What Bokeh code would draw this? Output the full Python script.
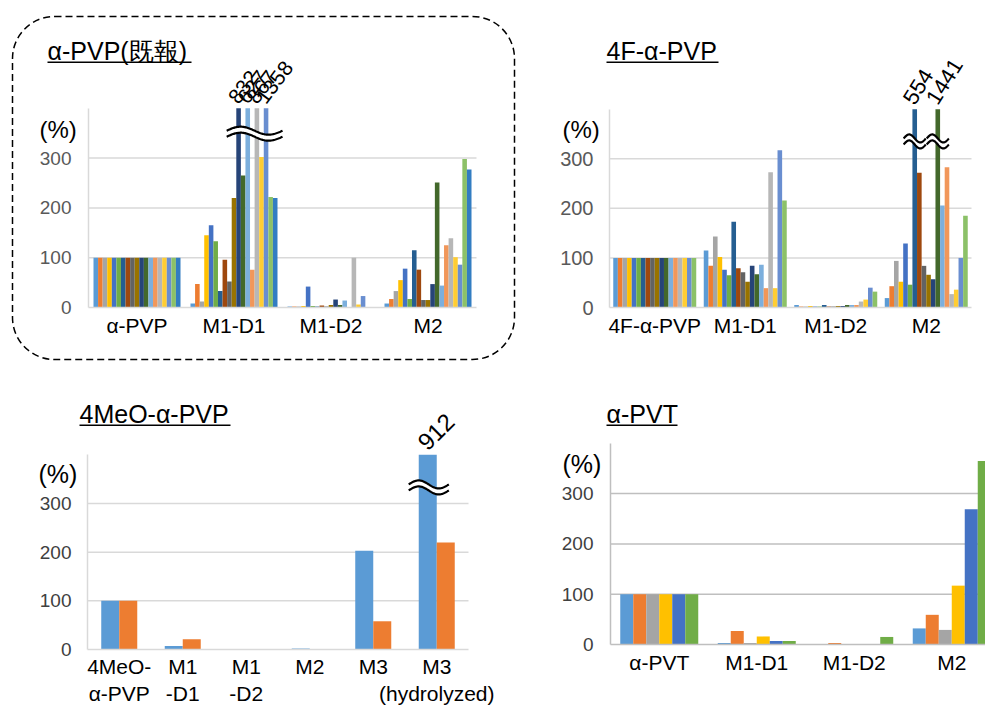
import math
import numpy as np
from bokeh.plotting import figure
from bokeh.layouts import column, row
from bokeh.models import Range1d, FixedTicker, Label, BoxAnnotation, ColumnDataSource
from bokeh.embed import file_html
from bokeh.resources import INLINE
from bokeh.core.properties import value

FONT = "Liberation Sans"

SERIES_COLORS = ["#5B9BD5", "#ED7D31", "#A5A5A5", "#FFC000", "#4472C4", "#70AD47",
                 "#255E91", "#9E480E", "#636363", "#997300", "#264478", "#43682B",
                 "#7CAFDD", "#F1975A", "#B7B7B7", "#FFCD33", "#698ED0", "#8CC168",
                 "#327DC2"]

# ---------------- α-PVP (既報) : 19 series ----------------
apvp_categories = ["α-PVP", "M1-D1", "M1-D2", "M2"]
apvp_parent = [100, 100, 100, 100, 100, 100, 100, 100, 100, 100, 100, 100, 100, 100, 100, 100, 100, 100, 100]
apvp_m1d1 = [8, 47, 12, 145, 165, 133, 33, 96, 52, 220, 832, 265, 627, 76, 867, 302, 1358, 222, 220]
apvp_m1d2 = [2, 2, 2, 3, 42, 3, 2, 4, 2, 5, 16, 5, 14, 0, 100, 6, 23, 0, 0]
apvp_m2 = [8, 17, 33, 55, 78, 17, 115, 76, 15, 15, 47, 251, 44, 125, 139, 101, 86, 298, 277]

# ---------------- 4F-α-PVP : 18 series ----------------
f4_categories = ["4F-α-PVP", "M1-D1", "M1-D2", "M2"]
f4_parent = [100, 100, 100, 100, 100, 100, 100, 100, 100, 100, 100, 100, 100, 100, 100, 100, 100, 100]
f4_m1d1 = [115, 84, 143, 102, 76, 65, 173, 79, 71, 52, 84, 67, 86, 39, 273, 39, 317, 216]
f4_m1d2 = [5, 2, 2, 3, 2, 2, 5, 2, 2, 3, 3, 5, 5, 5, 12, 16, 40, 32]
f4_m2 = [19, 43, 94, 52, 129, 46, 554, 272, 84, 66, 57, 1441, 206, 283, 27, 36, 100, 185]

# ---------------- 4MeO-α-PVP : 2 series ----------------
meo_categories = ["4MeO-\nα-PVP", "M1\n-D1", "M1\n-D2", "M2", "M3", "M3\n(hydrolyzed)"]
meo_series1 = [100, 7, 1, 2, 203, 912]
meo_series2 = [100, 21, 1, 1, 58, 220]

# ---------------- α-PVT : 6 series ----------------
pvt_categories = ["α-PVT", "M1-D1", "M1-D2", "M2"]
pvt_parent = [100, 100, 100, 100, 100, 100]
pvt_m1d1 = [3, 27, 3, 16, 7, 7]
pvt_m1d2 = [1, 3, 1, 1, 0, 15]
pvt_m2 = [32, 59, 29, 117, 269, 365]

y_ticks = [0, 100, 200, 300]
grid_ticks = [100, 200, 300]
AXIS_TOP = 400


def build(spec):
    W, H = spec["W"], spec["H"]
    ox, oy = spec["origin"]
    ax_x, base_y, plot_r = spec["axis_x"], spec["baseline"], spec["plot_right"]
    ppu, cat_px = spec["ppu"], spec["cat_px"]
    x0 = -0.5 - (ax_x - ox) / cat_px
    x1 = x0 + W / cat_px
    y0 = -(oy + H - base_y) / ppu
    y1 = (base_y - oy) / ppu
    p = figure(width=W, height=H, x_range=Range1d(x0, x1), y_range=Range1d(y0, y1),
               output_backend="svg", toolbar_location=None, min_border=0)
    p.outline_line_color = None
    p.background_fill_color = "white"
    p.border_fill_color = "white"

    def dx(sx):
        return x0 + (sx - ox) / cat_px

    def dy(sy):
        return (base_y - sy) / ppu

    ncat = len(spec["categories"])
    plot_end = -0.5 + (plot_r - ax_x) / cat_px

    # gridlines (from the axis to the end of the plot area)
    p.segment(x0=[-0.5] * len(grid_ticks), x1=[plot_end] * len(grid_ticks),
              y0=grid_ticks, y1=grid_ticks, line_color=spec["grid_color"], line_width=1.5)

    groups = spec["groups"]
    n = len(groups[0])
    bw = spec["group_frac"] / n
    xs, tops, cols, broken = [], [], [], []
    for i, vals in enumerate(groups):
        for j, v in enumerate(vals):
            x = i + (j - (n - 1) / 2) * bw
            xs.append(x)
            tops.append(min(v, AXIS_TOP))
            cols.append(SERIES_COLORS[j])
            if v > AXIS_TOP:
                broken.append((i, x, v))
    src = ColumnDataSource(dict(x=xs, top=tops, color=cols))
    p.vbar(x="x", top="top", bottom=0, width=bw, fill_color="color", line_color=None, source=src)

    # axis break marks
    padL, padR = spec["wave_pad"]
    segs = []
    if spec["wave_mode"] == "group":
        cats = sorted(set(b[0] for b in broken))
        for c in cats:
            bx = [b[1] for b in broken if b[0] == c]
            segs.append((min(bx) - padL * bw, max(bx) + padR * bw))
    else:
        for b in broken:
            segs.append((b[1] - padL * bw, b[1] + padR * bw))
    for (a, b) in segs:
        s = np.linspace(0, 1, 80)
        wx = a + (b - a) * s
        base = spec["wave_amp"] * np.sin(2 * np.pi * s)
        g = spec["wave_gap"] / 2
        up = spec["wave_y"] + (base + g) / ppu
        lo = spec["wave_y"] + (base - g) / ppu
        p.varea(x=wx, y1=lo, y2=up, fill_color="white")
        p.line(wx, up, line_color="black", line_width=2.2)
        p.line(wx, lo, line_color="black", line_width=2.2)

    # value labels of broken bars
    for (i, x, v) in broken:
        p.text(x=[x], y=[AXIS_TOP + spec["lab_dy"] / ppu], text=[str(v)],
               angle=math.radians(spec["lab_angle"]), text_align="left",
               text_baseline="bottom", text_font=value(FONT),
               text_font_size=spec["lab_size"], text_color="black")

    # axes (drawn at fixed data locations inside the figure)
    xa = p.xaxis[0]
    xa.fixed_location = 0
    xa.bounds = (-0.5, plot_end)
    xa.ticker = FixedTicker(ticks=list(range(ncat)))
    xa.major_label_overrides = {i: c for i, c in enumerate(spec["categories"])}
    xa.axis_line_color = spec["axis_color"]
    xa.axis_line_width = 1.5
    xa.major_tick_line_color = None
    xa.minor_tick_line_color = None
    xa.major_tick_out = 0
    xa.major_tick_in = 0
    xa.major_label_text_font = FONT
    xa.major_label_text_font_size = spec["cat_size"]
    xa.major_label_text_color = "black"
    xa.major_label_standoff = spec["x_standoff"]
    xa.major_label_text_line_height = 1.2

    ya = p.yaxis[0]
    ya.fixed_location = -0.5
    ya.ticker = FixedTicker(ticks=y_ticks)
    ya.bounds = (0, AXIS_TOP)
    ya.axis_line_color = spec["axis_color"]
    ya.axis_line_width = 1.5
    ya.major_tick_line_color = None
    ya.minor_tick_line_color = None
    ya.major_tick_out = 0
    ya.major_tick_in = 0
    ya.major_label_text_font = FONT
    ya.major_label_text_font_size = spec["tick_size"]
    ya.major_label_text_color = spec["tick_color"]
    ya.major_label_standoff = spec["y_standoff"]

    p.xgrid.visible = False
    p.ygrid.visible = False

    # title with underline
    tl, tm, tw, ul, tsize = spec["title_pos"]
    p.add_layout(Label(x=dx(tl), y=dy(tm), text=spec["title"], text_font=FONT,
                       text_font_size=tsize, text_baseline="middle",
                       text_align="left", text_color="black"))
    p.add_layout(BoxAnnotation(left=dx(tl), right=dx(tl + tw), top=dy(ul),
                               bottom=dy(ul + 1.6), fill_color="black", fill_alpha=1,
                               line_color=None))
    # (%) label
    pl, pc, ps = spec["pct"]
    p.add_layout(Label(x=dx(pl), y=dy(pc), text="(%)", text_font=FONT,
                       text_font_size=ps, text_baseline="middle",
                       text_align="left", text_color="black"))

    if spec.get("box"):
        bl, bt, br, bb = spec["box"]
        p.add_layout(BoxAnnotation(left=dx(bl), right=dx(br), top=dy(bt), bottom=dy(bb),
                                   fill_alpha=0, line_color="black", line_alpha=1,
                                   line_width=1.5, line_dash="7 4", border_radius=42))
    return p


W1, W2 = 528, 457
H1, H2 = 365, 342

p1 = build(dict(
    W=W1, H=H1, origin=(0, 0), axis_x=88, baseline=307, plot_right=476,
    ppu=0.498, cat_px=97,
    categories=apvp_categories, groups=[apvp_parent, apvp_m1d1, apvp_m1d2, apvp_m2],
    group_frac=0.897, axis_color="#D9D9D9", grid_color="#D9D9D9",
    tick_color="#595959", tick_size="19px", cat_size="21px",
    x_standoff=6, y_standoff=17,
    wave_mode="group", wave_pad=(2.6, 3.6), wave_y=349, wave_amp=4, wave_gap=6,
    lab_dy=3, lab_angle=53, lab_size="21px",
    title="α-PVP(既報)", title_pos=(47, 50, 144, 61, "25px"), pct=(39, 129, "24px"),
    box=(12, 16, 514, 359)))

p2 = build(dict(
    W=W2, H=H1, origin=(W1, 0), axis_x=609, baseline=307, plot_right=971,
    ppu=0.4957, cat_px=90.5,
    categories=f4_categories, groups=[f4_parent, f4_m1d1, f4_m1d2, f4_m2],
    group_frac=0.917, axis_color="#D9D9D9", grid_color="#D9D9D9",
    tick_color="#595959", tick_size="20px", cat_size="21px",
    x_standoff=6, y_standoff=16,
    wave_mode="each", wave_pad=(2.4, 2.4), wave_y=335, wave_amp=4, wave_gap=6,
    lab_dy=3, lab_angle=58, lab_size="22px",
    title="4F-α-PVP", title_pos=(606, 50, 112, 61, "25px"), pct=(562, 129, "24px")))

p3 = build(dict(
    W=W1, H=H2, origin=(0, H1), axis_x=87, baseline=649, plot_right=468,
    ppu=0.4867, cat_px=63.5,
    categories=meo_categories, groups=[list(t) for t in zip(meo_series1, meo_series2)],
    group_frac=0.567, axis_color="#D9D9D9", grid_color="#D9D9D9",
    tick_color="#404040", tick_size="19px", cat_size="21px",
    x_standoff=5, y_standoff=16,
    wave_mode="each", wave_pad=(1.06, 1.17), wave_y=333, wave_amp=4, wave_gap=6,
    lab_dy=3, lab_angle=45, lab_size="24px",
    title="4MeO-α-PVP", title_pos=(79, 413, 151, 424, "25px"), pct=(38, 473, "25px")))

p4 = build(dict(
    W=W2, H=H2, origin=(W1, H1), axis_x=610, baseline=644, plot_right=1000,
    ppu=0.503, cat_px=97.5,
    categories=pvt_categories, groups=[pvt_parent, pvt_m1d1, pvt_m1d2, pvt_m2],
    group_frac=0.8, axis_color="#BFBFBF", grid_color="#BFBFBF",
    tick_color="#404040", tick_size="19px", cat_size="21px",
    x_standoff=6, y_standoff=17,
    wave_mode="each", wave_pad=(1, 1), wave_y=340, wave_amp=4, wave_gap=6,
    lab_dy=3, lab_angle=45, lab_size="22px",
    title="α-PVT", title_pos=(606, 413, 71, 424, "25px"), pct=(562, 463, "25px")))

layout = column(row(p1, p2), row(p3, p4))

with open("out.html", "w") as f:
    f.write(file_html(layout, INLINE))
